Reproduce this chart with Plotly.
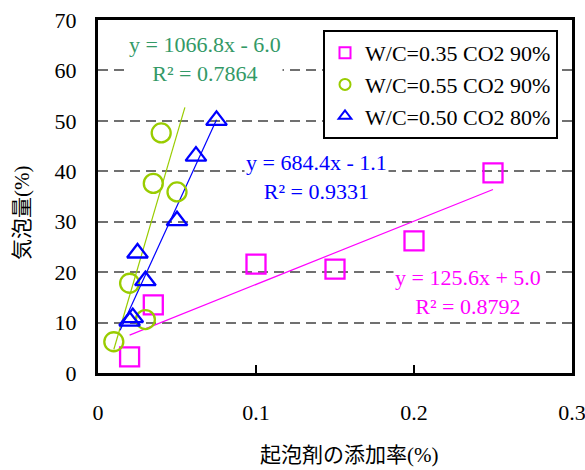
import plotly.graph_objects as go

# ---- data ----
names = ["W/C=0.35 CO2 90%", "W/C=0.55 CO2 90%", "W/C=0.50 CO2 80%"]
x_035 = [0.02, 0.035, 0.1, 0.15, 0.2, 0.25]
y_035 = [3.2, 13.5, 21.6, 20.6, 26.2, 39.7]
x_055 = [0.01, 0.02, 0.03, 0.035, 0.04, 0.05]
y_055 = [6.2, 17.8, 10.6, 37.6, 47.6, 35.9]
x_050 = [0.02, 0.022, 0.025, 0.03, 0.05, 0.062, 0.075]
y_050 = [10.3, 11.0, 23.8, 18.3, 30.2, 43.0, 50.1]

# trend lines: slope, intercept, x-span
trend_035 = (125.6, 5.0, [0.02, 0.25])
trend_055 = (1066.8, -6.0, [0.01, 0.055])
trend_050 = (684.4, -1.1, [0.014, 0.075])
r2_labels = ["R² = 0.8792", "R² = 0.7864", "R² = 0.9331"]
eq_labels = ["y = 125.6x + 5.0", "y = 1066.8x - 6.0", "y = 684.4x - 1.1"]
label_pos = [(0.234, 16.1), (0.0677, 62.3), (0.138, 38.8)]

x_ticks = [0, 0.1, 0.2, 0.3]
y_ticks = [0, 10, 20, 30, 40, 50, 60, 70]

PINK = "#FF00FF"
LIME = "#99CC00"
BLUE = "#0000FF"
GTXT = "#339966"
FONT = "Liberation Serif, Noto Sans CJK JP"

fig = go.Figure()

series = [
    (x_035, y_035, "square-open", 19, PINK, trend_035),
    (x_055, y_055, "circle-open", 19, LIME, trend_055),
    (x_050, y_050, "triangle-up-open", 18, BLUE, trend_050),
]

# trend lines first (under markers)
for xs, ys, sym, sz, col, (m, b, span) in series:
    fig.add_trace(go.Scatter(
        x=span, y=[m * v + b for v in span], mode="lines",
        line=dict(color=col, width=1.2), showlegend=False, hoverinfo="skip"))

for i, (xs, ys, sym, sz, col, tr) in enumerate(series):
    fig.add_trace(go.Scatter(
        x=xs, y=ys, mode="markers", showlegend=False,
        marker=dict(symbol=sym, size=sz, color=col,
                    line=dict(color=col, width=2.3))))
    # legend entry
    fig.add_trace(go.Scatter(
        x=[None], y=[None], mode="markers", name=names[i], legendgroup=str(i),
        marker=dict(symbol=sym, size=11, color=col,
                    line=dict(color=col, width=2))))

text_cols = [PINK, GTXT, BLUE]
for i in range(3):
    fig.add_annotation(
        x=label_pos[i][0], y=label_pos[i][1], xref="x", yref="y",
        text=eq_labels[i] + "<br>" + r2_labels[i], showarrow=False,
        font=dict(family=FONT, size=22, color=text_cols[i]),
        bgcolor="white", align="center", borderpad=1)

# axis titles
fig.add_annotation(
    x=(349 - 98) / 474, y=(470 - 97 - 455) / 353, xref="paper", yref="paper",
    text="起泡剤の添加率(%)", showarrow=False, xanchor="center", yanchor="middle",
    font=dict(family=FONT, size=21, color="black"))
fig.add_annotation(
    x=(22 - 98) / 474, y=(373 - 213) / 353, xref="paper", yref="paper",
    text="気泡量(%)", showarrow=False, textangle=-90, xanchor="center", yanchor="middle",
    font=dict(family=FONT, size=21, color="black"))

fig.update_layout(
    width=585, height=470,
    margin=dict(l=98, r=13, t=20, b=97, autoexpand=False),
    paper_bgcolor="white", plot_bgcolor="white",
    font=dict(family=FONT, size=22, color="black"),
    showlegend=True,
    legend=dict(x=(323 - 98) / 474, y=(373 - 30) / 353, xanchor="left", yanchor="top",
                bgcolor="white", bordercolor="black", borderwidth=2,
                font=dict(family=FONT, size=22, color="black"),
                tracegroupgap=0, itemwidth=30),
    xaxis=dict(range=[0, 0.3], tickvals=x_ticks, ticktext=["0", "0.1", "0.2", "0.3"],
               showgrid=False, zeroline=False, showline=True, linecolor="black",
               linewidth=3, mirror=True, ticks="inside", ticklen=8, tickwidth=1.5,
               tickcolor="black", ticklabelstandoff=18, automargin=False,
               ticklabeloverflow="allow",
               tickfont=dict(family=FONT, size=22, color="black")),
    yaxis=dict(range=[0, 70], tickvals=y_ticks, showgrid=True, gridcolor="#707070",
               gridwidth=1.5, griddash="10px,6px", zeroline=False, showline=True,
               linecolor="black", linewidth=3, mirror=True, ticks="",
               ticklabelstandoff=14, automargin=False,
               tickfont=dict(family=FONT, size=22, color="black")),
)

fig.write_html("out.html")
